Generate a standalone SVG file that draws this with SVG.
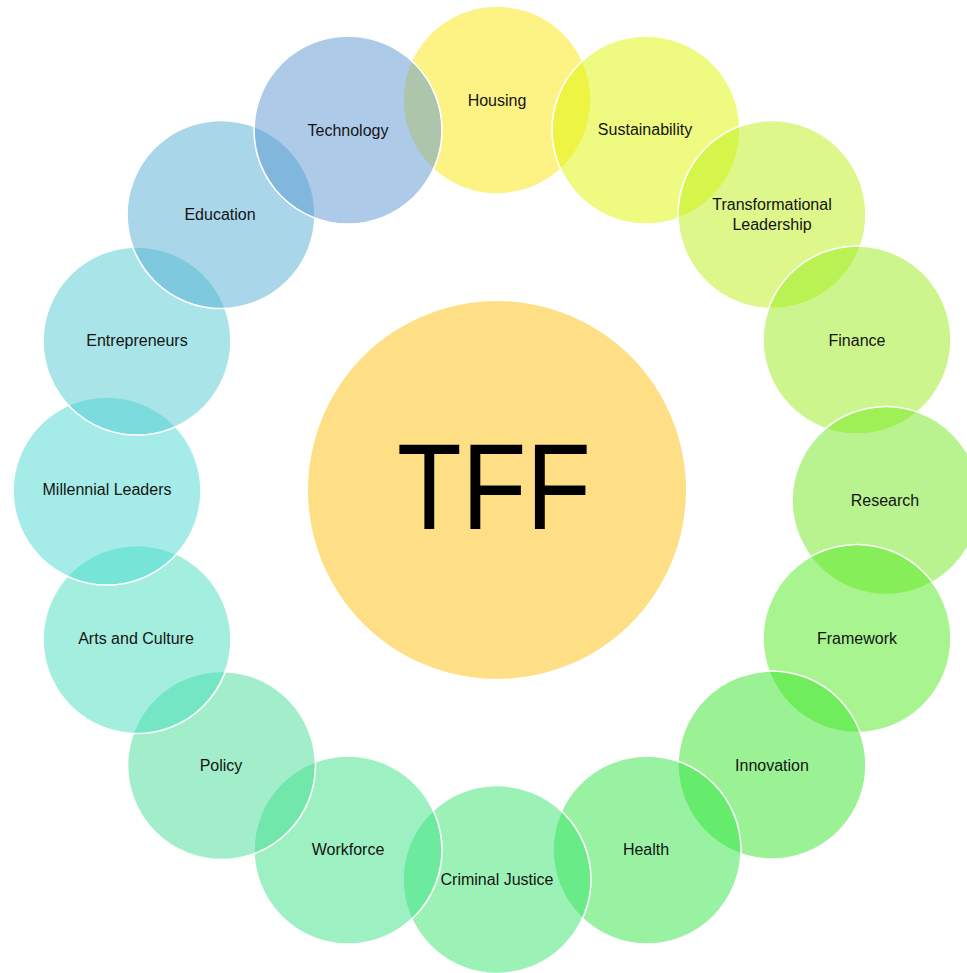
<svg xmlns="http://www.w3.org/2000/svg" width="967" height="973" viewBox="0 0 967 973">
<style>
.c{fill-opacity:0.5;stroke:#ffffff;stroke-width:1.6}
.t{font-family:"Liberation Sans",Arial,sans-serif;font-size:16px;fill:#141414;text-anchor:middle}
</style>
<rect width="967" height="973" fill="#ffffff"/>
<g id="center">
<circle cx="497" cy="490" r="189" fill="#FEDF85"/>
<text x="494" y="529" font-family="'Liberation Sans',Arial,sans-serif" font-size="123" fill="#000" text-anchor="middle" textLength="194" lengthAdjust="spacingAndGlyphs">TFF</text>
</g>
<g id="housing"><circle class="c" cx="497" cy="100" r="94" fill="#FBE509"/><text class="t" x="497" y="106">Housing</text></g>
<g id="sustainability"><circle class="c" cx="646" cy="130" r="94" fill="#DDF501"/><text class="t" x="645" y="135">Sustainability</text></g>
<g id="transformational-leadership"><circle class="c" cx="772" cy="214.5" r="94" fill="#BBEF15"/><text class="t" x="772" y="210">Transformational</text><text class="t" x="772" y="230">Leadership</text></g>
<g id="finance"><circle class="c" cx="857" cy="340" r="94" fill="#99ED1B"/><text class="t" x="857" y="346">Finance</text></g>
<g id="research"><circle class="c" cx="886" cy="500.5" r="94" fill="#71E721"/><text class="t" x="885" y="506">Research</text></g>
<g id="framework"><circle class="c" cx="857" cy="638.5" r="94" fill="#51E91F"/><text class="t" x="857" y="644">Framework</text></g>
<g id="innovation"><circle class="c" cx="772" cy="765" r="94" fill="#37E52B"/><text class="t" x="772" y="771">Innovation</text></g>
<g id="health"><circle class="c" cx="647" cy="850" r="94" fill="#31E545"/><text class="t" x="646" y="855">Health</text></g>
<g id="criminal-justice"><circle class="c" cx="497" cy="879.5" r="94" fill="#39E56D"/><text class="t" x="497" y="885">Criminal Justice</text></g>
<g id="workforce"><circle class="c" cx="348" cy="850" r="94" fill="#3BE183"/><text class="t" x="348" y="855">Workforce</text></g>
<g id="policy"><circle class="c" cx="221.5" cy="765.5" r="94" fill="#47DD95"/><text class="t" x="221" y="771">Policy</text></g>
<g id="arts-and-culture"><circle class="c" cx="137" cy="639.5" r="94" fill="#47DDBD"/><text class="t" x="136" y="644">Arts and Culture</text></g>
<g id="millennial-leaders"><circle class="c" cx="107" cy="491" r="94" fill="#4BD9D1"/><text class="t" x="107" y="495">Millennial Leaders</text></g>
<g id="entrepreneurs"><circle class="c" cx="137" cy="341" r="94" fill="#51C9D1"/><text class="t" x="137" y="346">Entrepreneurs</text></g>
<g id="education"><circle class="c" cx="221" cy="214.5" r="94" fill="#53ADD1"/><text class="t" x="220" y="220">Education</text></g>
<g id="technology"><circle class="c" cx="348" cy="130" r="94" fill="#5B97D1"/><text class="t" x="348" y="136">Technology</text></g>
<g id="connectors"/>
</svg>
